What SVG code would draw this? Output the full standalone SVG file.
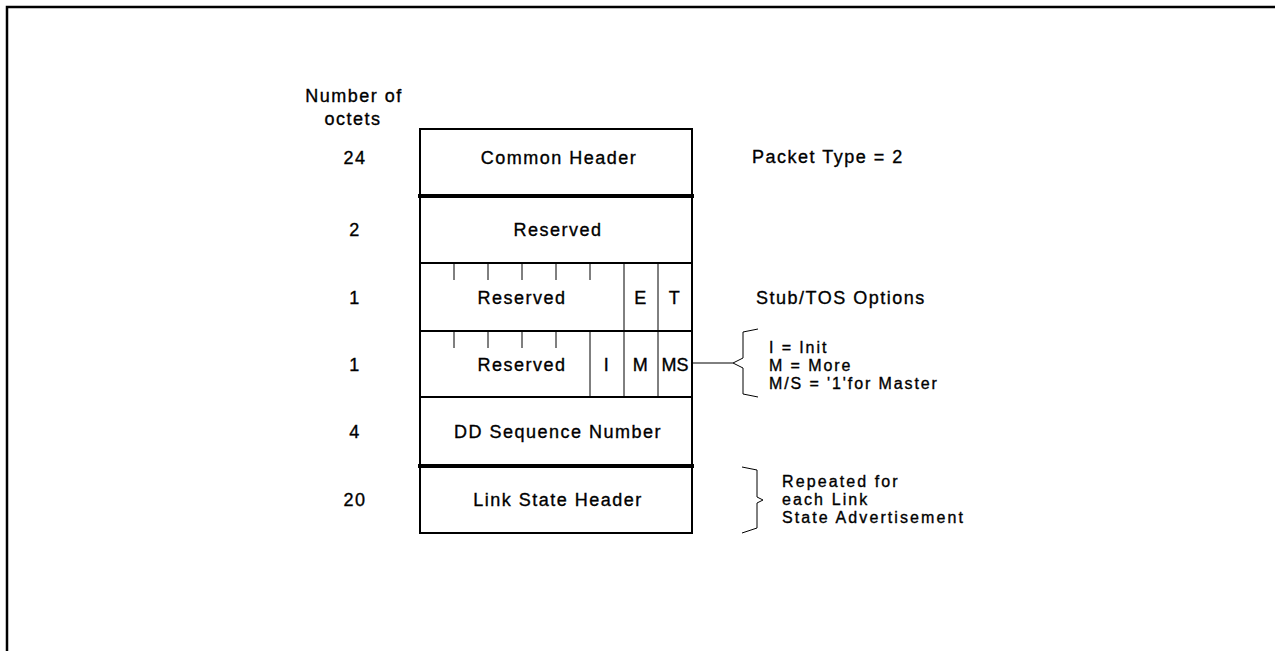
<svg xmlns="http://www.w3.org/2000/svg" width="1275" height="651" viewBox="0 0 1275 651">
<style>
text{font-family:"Liberation Sans",Arial,sans-serif;font-size:18px;fill:#000;stroke:#000;stroke-width:0.35;letter-spacing:1.5px}
.c{text-anchor:middle}
.lg{font-size:16px;letter-spacing:1.9px}
.lr{font-size:16px;letter-spacing:2.1px}
.frame{fill:none;stroke:#000;stroke-width:2.5}
.edge{stroke:#000;stroke-width:2;fill:none}
.thick{stroke:#000;stroke-width:4;fill:none}
.thin{stroke:#000;stroke-width:1;fill:none}
</style>
<rect width="1275" height="651" fill="#fff"/>
<path class="frame" d="M7,651 V7 H1275"/>
<g id="axis-label">
<text class="c" x="354" y="102">Number of</text>
<text class="c" x="353" y="125">octets</text>
</g>
<g id="row-common-header">
<text class="c" x="355" y="164">24</text>
<path class="edge" d="M420,196 V129 H692 V196"/>
<text class="c" x="559" y="164">Common Header</text>
<text x="752" y="163">Packet Type = 2</text>
</g>
<g id="row-reserved-2">
<text class="c" x="355" y="236">2</text>
<path class="edge" d="M420,196 V263 M692,196 V263"/>
<text class="c" x="558" y="236">Reserved</text>
</g>
<g id="row-options">
<text class="c" x="355" y="304">1</text>
<path class="edge" d="M420,263 V331 M692,263 V331"/>
<path class="thin" d="M454,263 v17 M488,263 v17 M522,263 v17 M556,263 v17 M590,263 v17 M624,263 V331 M658,263 V331"/>
<text class="c" x="522" y="304">Reserved</text>
<text class="c" x="641" y="304">E</text>
<text class="c" x="675" y="304">T</text>
<text x="756" y="304">Stub/TOS Options</text>
</g>
<g id="row-flags">
<text class="c" x="355" y="371">1</text>
<path class="edge" d="M420,331 V397 M692,331 V397"/>
<path class="thin" d="M454,331 v17 M488,331 v17 M522,331 v17 M556,331 v17 M590,331 V397 M624,331 V397 M658,331 V397"/>
<text class="c" x="522" y="371">Reserved</text>
<text class="c" x="607" y="371">I</text>
<text class="c" x="641" y="371">M</text>
<text class="c" x="675" y="371" style="letter-spacing:0">MS</text>
</g>
<g id="flags-legend">
<text class="lg" x="769" y="353">I = Init</text>
<text class="lg" x="769" y="371">M = More</text>
<text class="lg" x="769" y="389">M/S = '1'for Master</text>
</g>
<g id="row-dd-sequence">
<text class="c" x="355" y="438">4</text>
<path class="edge" d="M420,397 V466 M692,397 V466"/>
<text class="c" x="558" y="438">DD Sequence Number</text>
</g>
<g id="row-lsa-header">
<text class="c" x="355" y="506">20</text>
<path class="edge" d="M420,466 V533 H692 V466"/>
<text class="c" x="558" y="506">Link State Header</text>
</g>
<g id="repeat-legend">
<text class="lr" x="782" y="487">Repeated for</text>
<text class="lr" x="782" y="505">each Link</text>
<text class="lr" x="782" y="523">State Advertisement</text>
</g>
<g id="separators">
<path class="edge" d="M420,263 H692 M420,331 H692 M420,397 H692"/>
<path class="thick" d="M418,196 H694 M418,466 H694"/>
</g>
<g id="connectors">
<path class="thin" d="M692,363 H733"/>
<path class="thin" d="M758,329 L743,332 V358 L733,363 L743,368 V394 L758,397"/>
<path class="thin" d="M742,467 L757,470 V497 L763,500 L757,503 V528 L742,533"/>
</g>
</svg>
